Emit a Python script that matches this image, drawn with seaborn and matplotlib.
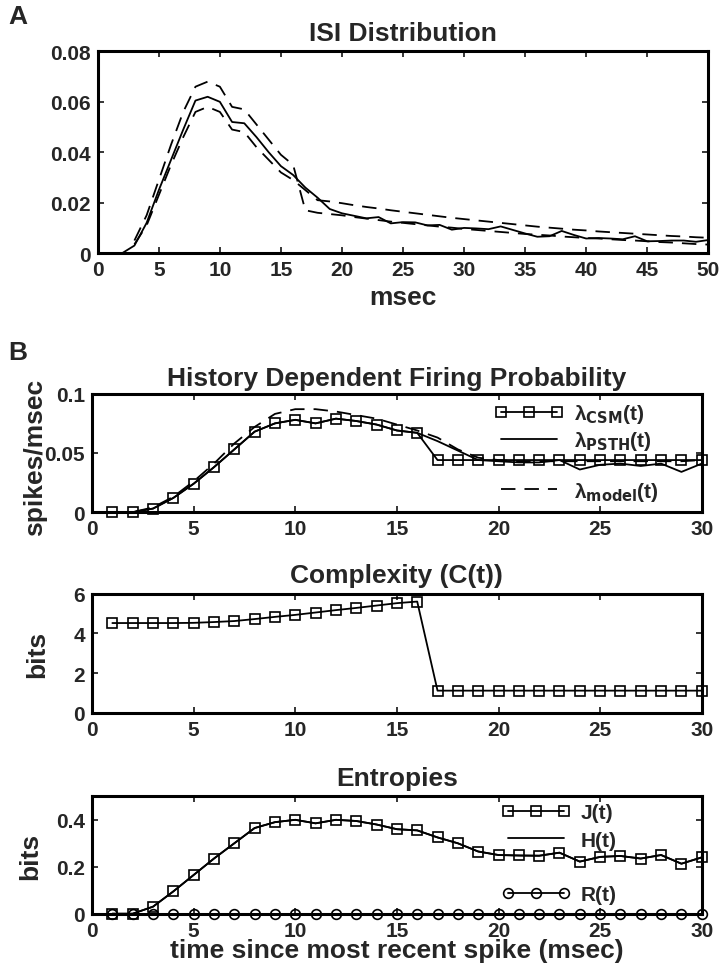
import matplotlib
matplotlib.use("Agg")
import matplotlib.pyplot as plt
from matplotlib.lines import Line2D
import seaborn as sns

# -------------------------
# Data
# -------------------------
isi_msec = list(range(2, 51))
isi_emp = [0.0, 0.003, 0.012, 0.025, 0.037, 0.049, 0.0605, 0.062, 0.060, 0.052,
           0.0515, 0.046, 0.040, 0.0345, 0.031, 0.026, 0.022, 0.0175, 0.0158, 0.0148,
           0.0138, 0.0143, 0.0118, 0.0123, 0.0122, 0.011, 0.0112, 0.0093, 0.0100, 0.0098,
           0.0095, 0.0106, 0.0092, 0.0078, 0.0065, 0.0067, 0.0088, 0.0072, 0.0058, 0.0060,
           0.0058, 0.0055, 0.0067, 0.0047, 0.0048, 0.0050, 0.0050, 0.0045, 0.0052]

band_msec = list(range(3, 51))
band_a = [0.0035, 0.011, 0.023, 0.035, 0.046, 0.056, 0.058, 0.056, 0.049, 0.048,
          0.042, 0.037, 0.032, 0.029, 0.025, 0.021, 0.0205, 0.0198, 0.019, 0.0183,
          0.0177, 0.017, 0.0164, 0.0158, 0.0152, 0.0146, 0.014, 0.0135, 0.013, 0.0125,
          0.012, 0.0115, 0.011, 0.0105, 0.0101, 0.0097, 0.0093, 0.009, 0.0086, 0.0083,
          0.008, 0.0077, 0.0074, 0.0071, 0.0068, 0.0066, 0.0063, 0.0061]
band_b = [0.005, 0.015, 0.029, 0.043, 0.056, 0.066, 0.068, 0.066, 0.058, 0.057,
          0.051, 0.045, 0.039, 0.035, 0.017, 0.016, 0.0155, 0.015, 0.0143, 0.0137,
          0.0131, 0.0125, 0.012, 0.0115, 0.011, 0.0105, 0.0101, 0.0096, 0.0092, 0.0088,
          0.0084, 0.008, 0.0076, 0.0073, 0.007, 0.0066, 0.0063, 0.006, 0.0058, 0.0055,
          0.0052, 0.005, 0.0047, 0.0044, 0.0042, 0.0039, 0.0036, 0.0034]

t = list(range(1, 31))
lam_csm = [0, 0, 0.003, 0.012, 0.024, 0.038, 0.053, 0.068, 0.075, 0.078,
           0.075, 0.079, 0.077, 0.074, 0.069, 0.067, 0.044, 0.044, 0.044, 0.044,
           0.044, 0.044, 0.044, 0.044, 0.044, 0.044, 0.044, 0.044, 0.044, 0.044]
lam_psth = [0, 0, 0.003, 0.012, 0.024, 0.038, 0.053, 0.068, 0.075, 0.078,
            0.075, 0.079, 0.077, 0.074, 0.069, 0.067, 0.060, 0.052, 0.044, 0.043,
            0.042, 0.042, 0.044, 0.036, 0.040, 0.041, 0.039, 0.041, 0.034, 0.041]
lam_model = [0, 0, 0.004, 0.013, 0.026, 0.041, 0.058, 0.072, 0.083, 0.087,
             0.087, 0.085, 0.082, 0.079, 0.074, 0.069, 0.063, 0.053, 0.046, 0.044,
             0.043, 0.043, 0.043, 0.043, 0.043, 0.043, 0.043, 0.043, 0.043, 0.044]

complexity = [4.52, 4.52, 4.52, 4.52, 4.53, 4.57, 4.62, 4.72, 4.83, 4.93,
              5.05, 5.17, 5.28, 5.40, 5.52, 5.60, 1.12, 1.12, 1.12, 1.12,
              1.12, 1.12, 1.12, 1.12, 1.12, 1.12, 1.12, 1.12, 1.12, 1.12]

ent_j = [0, 0, 0.03, 0.095, 0.165, 0.235, 0.30, 0.365, 0.39, 0.40,
         0.385, 0.40, 0.395, 0.38, 0.36, 0.355, 0.325, 0.30, 0.265, 0.25,
         0.248, 0.247, 0.26, 0.222, 0.242, 0.246, 0.235, 0.25, 0.213, 0.24]
ent_h = list(ent_j)
ent_r = [0.0] * 30

# -------------------------
# Style
# -------------------------
sns.set_style("ticks")
fam = ["Liberation Sans Narrow", "Liberation Sans", "DejaVu Sans"]
plt.rcParams["font.family"] = fam
plt.rcParams["font.weight"] = "bold"
plt.rcParams["mathtext.fontset"] = "custom"
plt.rcParams["mathtext.rm"] = "Liberation Sans Narrow:bold"
plt.rcParams["mathtext.bf"] = "Liberation Sans Narrow:bold"
plt.rcParams["mathtext.it"] = "Liberation Sans:italic"

TICK = 15
TITLE = 19
LW = 1.3

fig = plt.figure(figsize=(7.19, 9.70), dpi=100)
axA = fig.add_axes([0.136, 0.738, 0.849, 0.208])
ax1 = fig.add_axes([0.128, 0.471, 0.848, 0.122])
ax2 = fig.add_axes([0.128, 0.264, 0.848, 0.123])
ax3 = fig.add_axes([0.128, 0.057, 0.848, 0.121])


def frame(ax):
    for s in ax.spines.values():
        s.set_visible(True)
        s.set_linewidth(2.2)
        s.set_color("k")
    ax.tick_params(direction="in", top=True, right=True, length=4, width=1.3,
                   labelsize=TICK, pad=5)
    for lab in ax.get_xticklabels() + ax.get_yticklabels():
        lab.set_fontweight("bold")


sq = dict(marker="s", markersize=6.5, markerfacecolor="none",
          markeredgecolor="k", markeredgewidth=1.2)

# -------------------------
# A: ISI distribution
# -------------------------
sns.lineplot(x=isi_msec, y=isi_emp, ax=axA, color="k", lw=LW)
sns.lineplot(x=band_msec, y=band_a, ax=axA, color="k", lw=LW, dashes=False,
             linestyle=(0, (8, 5)))
sns.lineplot(x=band_msec, y=band_b, ax=axA, color="k", lw=LW, dashes=False,
             linestyle=(0, (8, 5)))
axA.set_xlim(0, 50)
axA.set_ylim(0, 0.08)
axA.set_xticks(range(0, 51, 5))
axA.set_yticks([0, 0.02, 0.04, 0.06, 0.08])
axA.set_yticklabels(["0", "0.02", "0.04", "0.06", "0.08"])
axA.set_title("ISI Distribution", fontsize=TITLE, fontweight="bold", pad=8)
axA.set_xlabel("msec", fontsize=TITLE, fontweight="bold")
axA.xaxis.label.set_va("center")
axA.xaxis.set_label_coords(0.5, -0.215)
frame(axA)

# -------------------------
# B1: firing probability
# -------------------------
sns.lineplot(x=t, y=lam_model, ax=ax1, color="k", lw=LW, linestyle=(0, (8, 5)))
sns.lineplot(x=t, y=lam_psth, ax=ax1, color="k", lw=LW)
sns.lineplot(x=t, y=lam_csm, ax=ax1, color="k", lw=LW, clip_on=False, **sq)
ax1.set_xlim(0, 30)
ax1.set_ylim(0, 0.1)
ax1.set_xticks(range(0, 31, 5))
ax1.set_yticks([0, 0.05, 0.1])
ax1.set_yticklabels(["0", "0.05", "0.1"])
ax1.set_title("History Dependent Firing Probability", fontsize=TITLE,
              fontweight="bold", pad=6)
ax1.set_ylabel("spikes/msec", fontsize=TITLE, fontweight="bold")
ax1.yaxis.label.set_va("center")
ax1.yaxis.set_label_coords(-0.093, 0.47)
frame(ax1)
h1 = [Line2D([], [], color="k", lw=LW, **sq),
      Line2D([], [], color="k", lw=LW),
      Line2D([], [], color="none"),
      Line2D([], [], color="k", lw=LW, linestyle=(0, (8, 5)))]
l1 = [r"λ$_{\mathbf{CSM}}$(t)", r"λ$_{\mathbf{PSTH}}$(t)", " ",
      r"λ$_{\mathbf{model}}$(t)"]
ax1.legend(h1, l1, loc="upper left", bbox_to_anchor=(0.66, 0.93), frameon=False,
           fontsize=TICK, handlelength=3.3, handletextpad=0.5, labelspacing=0.2,
           borderpad=0, borderaxespad=0, numpoints=3)

# -------------------------
# B2: complexity
# -------------------------
sns.lineplot(x=t, y=complexity, ax=ax2, color="k", lw=LW, clip_on=False, **sq)
ax2.set_xlim(0, 30)
ax2.set_ylim(0, 6)
ax2.set_xticks(range(0, 31, 5))
ax2.set_yticks([0, 2, 4, 6])
ax2.set_title("Complexity (C(t))", fontsize=TITLE, fontweight="bold", pad=8)
ax2.set_ylabel("bits", fontsize=TITLE, fontweight="bold")
ax2.yaxis.label.set_va("center")
ax2.yaxis.set_label_coords(-0.090, 0.5)
frame(ax2)

# -------------------------
# B3: entropies
# -------------------------
ci = dict(marker="o", markersize=7, markerfacecolor="none",
          markeredgecolor="k", markeredgewidth=1.2)
sns.lineplot(x=t, y=ent_r, ax=ax3, color="k", lw=LW, clip_on=False, **ci)
sns.lineplot(x=t, y=ent_h, ax=ax3, color="k", lw=LW)
sns.lineplot(x=t, y=ent_j, ax=ax3, color="k", lw=LW, clip_on=False, **sq)
ax3.set_xlim(0, 30)
ax3.set_ylim(0, 0.5)
ax3.set_xticks(range(0, 31, 5))
ax3.set_yticks([0, 0.2, 0.4])
ax3.set_yticklabels(["0", "0.2", "0.4"])
ax3.set_title("Entropies", fontsize=TITLE, fontweight="bold", pad=8)
ax3.set_ylabel("bits", fontsize=TITLE, fontweight="bold")
ax3.yaxis.label.set_va("center")
ax3.yaxis.set_label_coords(-0.102, 0.5)
ax3.set_xlabel("time since most recent spike (msec)", fontsize=TITLE,
               fontweight="bold")
ax3.xaxis.label.set_va("center")
ax3.xaxis.set_label_coords(0.5, -0.31)
frame(ax3)
h3 = [Line2D([], [], color="k", lw=LW, **sq),
      Line2D([], [], color="k", lw=LW),
      Line2D([], [], color="none"),
      Line2D([], [], color="k", lw=LW, **ci)]
l3 = ["J(t)", "H(t)", " ", "R(t)"]
ax3.legend(h3, l3, loc="upper left", bbox_to_anchor=(0.672, 0.94), frameon=False,
           fontsize=TICK, handlelength=3.3, handletextpad=0.5, labelspacing=0.4,
           borderpad=0, borderaxespad=0, numpoints=3)

fig.text(0.012, 0.982, "A", fontsize=19, fontweight="bold", va="center")
fig.text(0.012, 0.636, "B", fontsize=19, fontweight="bold", va="center")

fig.savefig("out.png", dpi=100)
